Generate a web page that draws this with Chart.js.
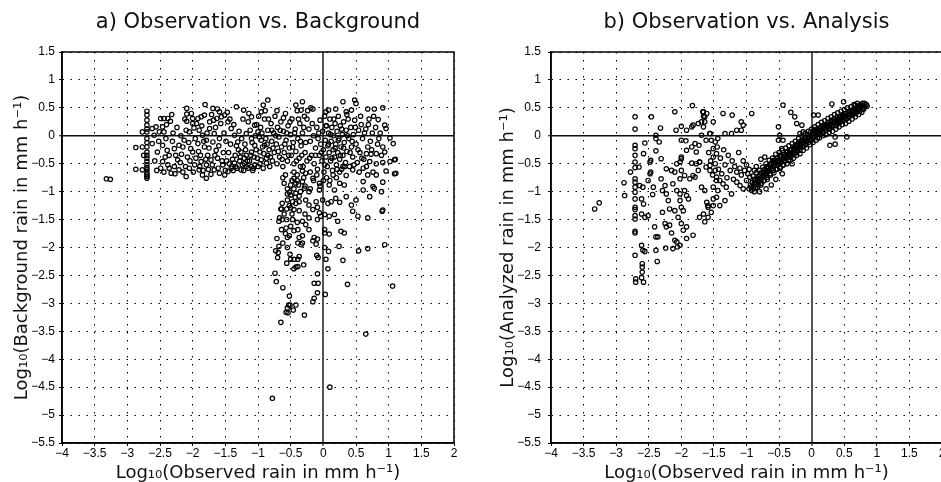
<!DOCTYPE html>
<html>
<head>
<meta charset="utf-8">
<script src="https://cdn.jsdelivr.net/npm/chart.js@4/dist/chart.umd.min.js"></script>
<style>
html,body{margin:0;padding:0;background:#fff;overflow:hidden;width:941px;height:482px}
#wrapA{position:absolute;left:0;top:0;width:470px;height:482px}
#wrapB{position:absolute;left:470px;top:0;width:480px;height:482px}
</style>
</head>
<body>
<div id="wrapA"><canvas id="chartA" width="470" height="482"></canvas></div>
<div id="wrapB"><canvas id="chartB" width="480" height="482"></canvas></div>
<script>
// ---- tick values / labels ----
const xTickValues = [-4,-3.5,-3,-2.5,-2,-1.5,-1,-0.5,0,0.5,1,1.5,2];
const yTickValues = [1.5,1,0.5,0,-0.5,-1,-1.5,-2,-2.5,-3,-3.5,-4,-4.5,-5,-5.5];
const panelTitles = ['a) Observation vs. Background','b) Observation vs. Analysis'];
const xAxisLabel = 'Log₁₀(Observed rain in mm h⁻¹)';
const yAxisLabels = ['Log₁₀(Background rain in mm h⁻¹)','Log₁₀(Analyzed rain in mm h⁻¹)'];

// ---- panel a: [log10 observed, log10 background] ----
const obsVsBackground = [
[-3.32,-0.77],[-3.26,-0.78],[-2.87,-0.60],[-2.87,-0.21],[-2.77,0.07],
[-2.70,0.44],[-2.70,0.37],[-2.70,0.28],[-2.70,0.19],[-2.70,0.12],[-2.70,0.07],[-2.70,-0.05],[-2.70,-0.12],[-2.70,-0.20],[-2.70,-0.29],[-2.70,-0.35],[-2.70,-0.40],[-2.70,-0.46],[-2.70,-0.52],[-2.70,-0.57],[-2.70,-0.61],[-2.70,-0.66],[-2.70,-0.70],[-2.70,-0.73],[-2.70,-0.76],
[-2.77,-0.20],[-2.75,-0.35],[-2.77,-0.61],
[-2.62,0.13],[-2.56,0.16],[-2.59,0.01],[-2.62,-0.14],[-2.54,-0.29],
[-2.49,0.31],[-2.44,0.31],[-2.38,0.31],[-2.46,0.16],[-2.44,0.07],[-2.41,-0.05],[-2.46,-0.17],[-2.39,-0.26],[-2.46,-0.46],[-2.49,-0.58],[-2.44,-0.65],[-2.38,-0.52],[-2.33,-0.67],
[-2.32,0.38],[-2.34,0.26],[-2.51,0.07],
[-2.28,-0.23],[-2.26,-0.35],[-2.23,-0.43],[-2.21,-0.17],[-2.15,-0.20],[-2.36,-0.35],[-2.21,-0.61],[-2.15,-0.65],[-2.28,-0.55],
[-2.09,0.49],[-2.09,0.39],[-2.09,0.26],[-2.10,0.10],[-2.05,0.07],[-2.13,-0.08],[-2.03,-0.23],[-2.08,-0.38],[-2.00,-0.29],[-1.97,-0.52],[-2.05,-0.58],[-2.10,-0.73],
[-2.00,0.31],[-2.00,0.22],[-1.98,0.14],
[-1.92,0.31],[-1.87,0.34],[-1.82,0.37],
[-1.90,0.10],[-1.85,0.01],[-1.79,-0.08],[-1.92,-0.14],[-1.82,-0.20],[-1.88,-0.35],[-1.87,-0.46],[-1.79,-0.52],[-1.90,-0.61],[-1.85,-0.70],[-1.79,-0.76],
[-1.81,0.56],[-1.69,0.49],[-1.62,0.48],[-1.59,0.43],
[-1.74,0.25],[-1.68,0.28],[-1.63,0.31],[-1.56,0.34],[-1.51,0.37],
[-1.74,0.13],[-1.67,0.04],[-1.59,-0.05],[-1.69,-0.11],[-1.64,-0.26],[-1.77,-0.35],[-1.72,-0.43],[-1.62,-0.40],[-1.54,-0.52],[-1.67,-0.61],[-1.59,-0.67],[-1.51,-0.70],[-1.72,-0.69],
[-1.33,0.52],[-1.22,0.46],
[-1.46,0.25],[-1.41,0.13],[-1.36,0.01],[-1.31,-0.11],[-1.26,-0.29],[-1.21,-0.40],[-1.18,-0.55],[-1.36,-0.49],[-1.41,-0.58],[-1.46,-0.64],[-1.26,-0.61],[-1.10,-0.55],[-1.05,-0.52],
[-1.15,0.25],[-1.10,0.34],[-1.05,0.19],[-1.00,0.07],[-0.95,-0.08],[-0.90,-0.17],[-0.97,-0.29],[-0.85,-0.35],[-0.95,-0.43],[-0.87,-0.49],
[-0.92,0.55],[-0.95,0.43],[-0.85,0.64],
[-1.18,0.04],[-1.10,-0.05],[-1.05,-0.17],[-1.10,-0.29],
[-1.48,-0.45],[-1.45,-0.30],[-1.42,-0.15],[-1.40,-0.55],[-1.38,-0.62],[-1.35,-0.35],[-1.32,-0.58],[-1.30,-0.25],[-1.28,-0.45],[-1.25,-0.05],[-1.24,-0.52],[-1.22,-0.62],[-1.20,-0.15],[-1.18,-0.35],[-1.15,-0.58],[-1.13,-0.45],[-1.12,0.10],[-1.08,-0.62],[-1.06,-0.38],[-1.03,-0.25],[-1.02,0.20],[-1.00,-0.55],
[-2.58,-0.45],[-2.55,-0.62],[-2.52,-0.10],[-2.42,-0.38],[-2.40,0.20],[-2.36,-0.58],[-2.31,-0.10],[-2.30,0.05],[-2.27,-0.68],[-2.24,0.15],[-2.19,-0.48],[-2.18,0.00],[-2.17,-0.33],[-2.12,0.30],[-2.11,-0.55],[-2.06,-0.12],[-2.04,-0.45],[-2.02,0.40],[-1.99,-0.65],[-1.96,-0.05],[-1.95,-0.40],[-1.94,0.22],[-1.91,-0.28],[-1.89,-0.55],[-1.86,0.18],[-1.84,-0.62],[-1.83,-0.10],[-1.80,-0.42],[-1.78,0.05],[-1.76,-0.60],[-1.75,-0.22],[-1.71,0.38],[-1.70,-0.52],[-1.66,-0.35],[-1.65,0.15],[-1.61,-0.58],[-1.60,-0.18],[-1.57,0.22],[-1.55,-0.45],[-1.53,-0.30],[-1.52,0.05],[-1.50,-0.62],[-1.49,-0.10],[-1.47,0.42],[-1.44,-0.50],[-1.43,0.30],[-1.39,-0.42],[-1.37,0.20],[-1.34,-0.55],[-1.33,-0.18],[-1.29,0.08],[-1.27,-0.38],[-1.23,0.30],[-1.21,-0.50],[-1.19,-0.25],[-1.16,-0.45],[-1.14,0.40],[-1.11,-0.35],[-1.09,-0.12],[-1.07,-0.58],[-1.04,0.00],[-1.01,-0.40],
[-0.98,-0.02],[-0.96,0.15],[-0.93,-0.20],[-0.92,-0.58],[-0.90,0.30],[-0.88,-0.05],[-0.87,-0.40],[-0.85,0.10],[-0.83,-0.25],[-0.82,-0.55],[-0.80,0.22],[-0.79,-0.10],[-0.78,-0.45],[-0.76,0.05],[-0.75,-0.30],[-0.74,0.35],[-0.72,-0.15],[-0.71,-0.50],[-0.70,0.15],[-0.68,-0.02],[-0.67,-0.38],[-0.65,0.25],[-0.64,-0.20],[-0.62,-0.55],[-0.61,0.08],[-0.60,-0.30],[-0.58,0.40],[-0.57,-0.08],[-0.55,-0.45],[-0.54,0.18],[-0.52,-0.22],[-0.50,0.02],[-0.49,-0.35],[-0.48,0.30],[-0.46,-0.12],[-0.45,-0.50],[-0.43,0.12],[-0.42,-0.28],[-0.40,0.45],[-0.39,-0.05],[-0.37,-0.40],[-0.36,0.22],[-0.34,-0.18],[-0.32,0.05],[-0.31,-0.55],[-0.29,0.35],[-0.28,-0.30],
[-0.99,0.35],[-0.97,-0.50],[-0.94,0.05],[-0.91,-0.32],[-0.89,0.45],[-0.86,-0.15],[-0.84,0.30],[-0.81,-0.38],[-0.79,0.10],[-0.77,-0.22],[-0.73,0.00],[-0.71,0.45],[-0.69,-0.28],[-0.66,0.10],[-0.63,-0.42],[-0.61,0.32],[-0.59,-0.15],[-0.56,0.05],[-0.53,-0.35],[-0.51,0.25],[-0.47,-0.20],[-0.44,0.05],[-0.41,-0.45],[-0.38,0.30],[-0.35,-0.10],[-0.33,-0.35],[-0.30,0.15],[-0.27,-0.12],[-0.24,0.45],[-0.21,-0.40],
[-0.32,0.61],[-0.42,0.55],[-0.19,0.50],[-0.16,0.48],[-0.34,0.46],[0.30,0.61],[0.48,0.64],[0.50,0.58],[0.68,0.48],[0.78,0.48],[0.91,0.50],[0.08,0.46],[0.04,0.43],[0.19,0.48],[0.35,0.43],[0.43,0.46],
[0.84,0.29],[0.94,0.19],[0.96,0.13],[1.02,-0.04],[1.07,-0.14],[0.91,-0.20],[0.94,-0.29],[0.89,-0.35],[0.81,-0.32],[0.73,-0.33],[0.66,-0.32],[0.71,-0.46],[0.81,-0.50],[0.91,-0.48],[1.02,-0.46],[1.09,-0.43],[1.09,-0.68],[0.96,-0.63],[0.91,-0.83],[0.81,-0.70],[0.76,-0.65],[0.68,-0.70],[0.61,-0.58],[0.55,-0.65],[0.45,-0.61],[0.35,-0.71],[0.61,-0.82],[0.76,-0.91],
[-0.45,-0.76],[-0.42,-0.85],[-0.32,-0.82],[-0.29,-0.94],[-0.22,-1.00],[-0.52,-1.01],[-0.32,-0.63],[-0.27,-0.67],[-0.16,-0.76],[-0.06,-0.85],[-0.06,-0.97],[0.09,-0.88],[0.17,-0.97],[0.25,-0.85],[0.32,-0.88],
[-0.25,0.30],[-0.22,0.12],[-0.20,-0.10],[-0.18,-0.35],[-0.17,0.22],[-0.15,0.00],[-0.14,-0.50],[-0.12,-0.22],[-0.10,0.15],[-0.09,-0.60],[-0.08,-0.05],[-0.06,-0.35],[-0.05,0.28],[-0.04,-0.15],[-0.02,-0.45],[-0.01,0.08],[0.00,-0.25],[0.01,-0.65],[0.02,0.35],[0.03,-0.08],[0.04,-0.38],[0.05,0.18],[0.06,-0.55],[0.07,-0.18],[0.08,0.05],[0.09,-0.30],[0.10,0.30],[0.11,-0.45],[0.12,-0.10],[0.13,0.15],[0.14,-0.62],[0.15,-0.25],[0.16,0.00],[0.17,-0.38],[0.18,0.22],[0.19,-0.15],[0.20,-0.52],[0.21,0.08],[0.22,-0.30],[0.23,0.35],[0.24,-0.05],[0.25,-0.42],[0.26,0.18],[0.27,-0.20],[0.28,-0.60],[0.29,0.02],[0.30,-0.35],[0.31,0.25],[0.32,-0.12],[0.34,-0.48],[0.35,0.10],[0.36,-0.28],[0.38,0.30],[0.39,-0.05],[0.40,-0.55],[0.42,0.15],[0.43,-0.20],[0.45,-0.38],[0.46,0.02],[0.48,0.28],[0.50,-0.15],[0.52,-0.48],[0.54,0.10],[0.56,-0.30],[0.58,0.20],[0.60,-0.05],[0.62,-0.42],[0.65,0.12],[0.68,-0.20],[0.70,0.30],[0.72,-0.10],[0.75,0.05],[0.80,0.15],[0.85,-0.05],
[-0.12,-0.35],[-0.07,0.05],[-0.03,-0.30],[0.02,-0.52],[0.04,0.18],[0.08,-0.15],[0.11,0.02],[0.13,-0.40],[0.16,0.30],[0.18,-0.22],[0.21,-0.60],[0.23,-0.08],[0.26,-0.35],[0.28,0.12],[0.31,-0.22],[0.33,-0.55],[0.36,0.38],[0.37,0.00],[0.41,-0.30],[0.44,-0.10],[0.47,-0.52],[0.49,0.15],[0.53,-0.25],[0.57,0.35],[0.59,-0.40],[0.63,0.05],[0.66,-0.55],[0.69,0.20],[0.74,-0.25],[0.77,0.35],[0.83,-0.15],[0.87,0.05],
[-0.45,-0.65],[-0.40,-0.70],[-0.35,-0.55],[-0.30,-0.75],[-0.25,-0.45],[-0.20,-0.65],[-0.15,-0.80],[-0.10,-0.70],[-0.05,-0.90],[0.00,-0.80],[0.05,-0.75],[0.10,-0.80],[0.15,-0.70],[0.20,-0.75],[0.25,-0.65],[0.30,-0.55],
[-0.60,-0.85],[-0.55,-0.95],[-0.50,-0.88],[-0.45,-0.95],[-0.38,-0.88],[-0.35,-1.00],[-0.28,-0.90],[-0.20,-0.95],[-0.62,-0.75],[-0.40,-0.80],
[-0.58,-0.70],[-0.48,-0.80],[-0.43,-1.10],[-0.52,-1.25],[-0.60,-1.40],[-0.48,-1.40],[-0.40,-1.55],[-0.58,-1.75],[-0.45,-1.70],[-0.62,-1.92],[-0.28,-1.40],
[-0.55,-1.04],[-0.50,-1.06],[-0.42,-1.03],[-0.37,-1.08],[-0.55,-1.15],[-0.47,-1.18],[-0.42,-1.21],[-0.63,-1.21],[-0.64,-1.31],[-0.56,-1.31],[-0.50,-1.29],[-0.45,-1.32],[-0.37,-1.34],[-0.37,-1.18],[-0.27,-1.15],[-0.22,-1.24],[-0.16,-1.32],[-0.09,-1.28],[-0.11,-1.18],[-0.01,-1.15],[0.07,-1.21],[0.12,-1.18],[0.19,-1.12],[0.25,-1.19],[0.35,-1.09],[0.43,-1.24],[0.50,-1.15],[-0.06,-1.38],[0.02,-1.41],[0.09,-1.44],[0.17,-1.41],[0.22,-1.53],[0.27,-1.71],[0.32,-1.74],[0.02,-1.68],[0.02,-1.74],[0.09,-1.76],[0.45,-1.35],[0.53,-1.44],[0.68,-1.47],[0.90,-1.35],[0.71,-1.09],[0.61,-0.97],[0.78,-0.94],[0.89,-1.00],[-0.32,-1.53],[-0.22,-1.47],[-0.27,-1.59],[-0.09,-1.50],[-0.04,-1.44],
[-0.65,-1.31],[-0.67,-1.47],[-0.68,-1.53],[-0.63,-1.50],[-0.56,-1.50],[-0.47,-1.50],[-0.50,-1.62],[-0.57,-1.65],[-0.64,-1.68],[-0.71,-1.84],[-0.55,-1.82],[-0.52,-1.79],[-0.39,-1.68],[-0.37,-1.82],[-0.32,-1.79],[-0.22,-1.68],[-0.14,-1.82],[-0.09,-1.85],[-0.16,-1.88],[-0.11,-1.94],[-0.39,-1.92],[-0.34,-1.95],[-0.32,-1.92],[-0.55,-2.00],[-0.68,-1.98],[-0.73,-2.06],[-0.69,-2.09],[-0.70,-2.18],[-0.51,-2.12],[-0.50,-2.21],[-0.45,-2.21],[-0.39,-2.21],[-0.37,-2.16],[-0.42,-2.35],[-0.45,-2.38],[-0.39,-2.34],[-0.30,-2.31],[-0.56,-2.28],[-0.10,-2.14],[-0.08,-2.18],[0.02,-2.00],[0.08,-2.07],[0.04,-2.21],[0.07,-2.38],[0.24,-1.98],[0.30,-2.23],[0.54,-2.06],[0.68,-2.02],[0.94,-1.95],[1.06,-2.69],[0.37,-2.66],[-0.09,-2.47],[-0.14,-2.64],[-0.08,-2.64],[0.03,-2.84],[-0.09,-2.81],[-0.14,-2.91],[-0.16,-2.97],[-0.74,-2.46],[-0.72,-2.61],[-0.62,-2.72],[-0.52,-2.87],[-0.53,-3.03],[-0.55,-3.08],[-0.51,-3.03],[-0.42,-3.03],[-0.46,-3.12],[-0.57,-3.16],[-0.29,-3.21],[-0.65,-3.34],[-0.54,-3.17],
[1.11,-0.67],[1.10,-0.42],[0.91,-1.33],
[0.65,-3.55],[0.10,-4.50],[-0.78,-4.70]
];

// ---- panel b: [log10 observed, log10 analysis] ----
const obsVsAnalysis = [
[-3.33,-1.31],[-3.26,-1.20],[-2.88,-0.84],[-2.87,-1.07],[-2.78,-0.65],
[-2.71,0.34],[-2.71,0.12],[-2.71,-0.17],[-2.71,-0.23],[-2.71,-0.35],[-2.71,-0.47],[-2.71,-0.57],[-2.71,-0.77],[-2.71,-0.83],[-2.71,-0.92],[-2.71,-1.01],[-2.71,-1.13],[-2.71,-1.28],[-2.71,-1.32],[-2.71,-1.43],[-2.71,-1.49],[-2.71,-1.71],[-2.71,-1.74],[-2.71,-2.14],
[-2.61,-1.96],[-2.59,-2.05],[-2.56,-2.07],[-2.60,-2.29],[-2.60,-2.35],[-2.60,-2.44],[-2.61,-2.54],[-2.70,-2.56],[-2.70,-2.62],[-2.58,-2.62],
[-2.65,-0.56],[-2.64,-0.89],[-2.59,-0.92],[-2.61,-1.13],[-2.58,-1.22],[-2.61,-1.40],[-2.56,-1.46],[-2.51,-1.43],
[-2.56,-0.13],[-2.58,-0.32],[-2.51,-0.80],[-2.48,-0.47],[-2.47,-0.44],[-2.47,-0.65],[-2.48,-0.68],
[-2.46,0.34],[-2.39,0.01],[-2.39,-0.05],[-2.34,-0.11],[-2.39,-0.27],[-2.32,0.14],
[-2.43,-0.92],[-2.44,-1.05],[-2.41,-1.63],[-2.39,-1.81],[-2.36,-1.81],[-2.39,-2.05],[-2.37,-2.25],
[-2.31,-0.41],[-2.31,-0.77],[-2.29,-0.98],[-2.25,-0.89],[-2.23,-1.04],[-2.20,-1.16],[-2.18,-1.31],[-2.29,-1.37],[-2.25,-1.57],[-2.23,-1.63],[-2.18,-1.60],[-2.24,-2.01],[-2.15,-1.74],[-2.13,-2.02],[-2.10,-1.87],[-2.07,-1.90],[-2.06,-1.99],
[-2.23,-0.59],[-2.15,-0.62],[-2.10,-0.65],[-2.07,-0.50],[-2.02,-0.47],[-2.00,-0.62],[-2.02,-0.77],[-1.95,-0.71],
[-2.10,0.43],[-2.08,0.10],[-2.00,0.17],[-1.92,0.10],[-1.84,0.16],[-1.82,0.19],
[-2.00,-0.08],[-1.93,-0.09],[-1.92,-0.26],[-2.00,-0.38],[-2.00,-0.41],
[-2.13,-0.86],[-2.07,-0.98],[-2.02,-1.04],[-1.95,-0.98],[-1.92,-1.07],[-2.02,-1.16],[-2.00,-1.28],[-2.10,-1.34],[-1.97,-1.34],[-1.89,-1.13],[-2.05,-1.46],[-2.00,-1.57],[-1.97,-1.69],[-1.92,-1.63],[-1.92,-1.84],[-2.02,-1.96],[-1.82,-1.78],
[-1.87,-0.77],[-1.82,-0.71],[-1.79,-0.74],[-1.77,-0.50],[-1.84,-0.49],[-1.72,-0.47],[-1.74,-0.62],
[-1.84,-0.20],[-1.77,-0.29],[-1.79,-0.14],[-1.73,-0.17],[-1.74,0.22],[-1.69,0.25],[-1.66,0.16],[-1.64,0.34],[-1.61,0.40],[-1.66,0.43],[-1.83,0.54],
[-1.69,-0.92],[-1.64,-0.98],[-1.61,-1.19],[-1.59,-1.28],[-1.66,-1.40],[-1.72,-1.46],[-1.64,-1.54],[-1.59,-1.46],
[-1.56,0.04],[-1.54,-0.08],[-1.48,-0.11],[-1.51,-0.23],[-1.46,-0.32],[-1.51,-0.38],
[-1.56,-0.53],[-1.48,-0.62],[-1.46,-0.80],[-1.51,-0.92],[-1.46,-1.10],[-1.51,-1.25],[-1.54,-1.37],
[-1.67,0.43],[-1.66,0.35],[-1.64,0.25],[-1.51,0.25],[-1.36,0.40],[-1.22,0.37],[-1.08,0.25],[-1.05,0.19],[-1.08,0.10],[-1.15,0.10],[-1.23,0.04],[-1.33,0.04],[-1.44,-0.05],[-1.56,0.04],[-1.62,-0.08],[-1.69,0.01],
[-0.92,0.40],
[-0.44,0.55],[-0.32,0.42],[-0.26,0.34],[-0.23,0.22],[-0.15,0.19],[-0.13,0.07],[-0.18,0.04],[0.03,0.37],[0.10,0.37],[0.31,0.57],[0.49,0.61],[0.67,0.55],[0.78,0.58],[0.85,0.53],
[-0.51,0.16],[-0.49,0.01],[-0.51,-0.08],[-0.46,-0.23],[-0.49,-0.35],[-0.44,-0.08],
[0.28,-0.17],[0.36,-0.15],[0.54,-0.02],[0.36,-0.02],
[-1.72,-0.47],[-1.62,-0.56],[-1.56,-0.62],[-1.46,-0.74],[-1.41,-0.80],[-1.36,-0.86],[-1.31,-0.92],[-1.23,-1.04],[-1.15,-0.83],[-1.10,-0.89],[-1.05,-0.95],[-1.00,-0.80],[-0.95,-0.74],[-1.44,-0.98],[-1.51,-1.13],[-1.33,-1.16],[-1.41,-1.25],[-1.59,-1.25],
[-1.58,-0.30],[-1.55,-0.45],[-1.52,-0.70],[-1.48,-0.50],[-1.45,-0.20],[-1.43,-0.60],[-1.40,-0.40],[-1.38,-0.68],[-1.35,-0.25],[-1.33,-0.52],[-1.30,-0.75],[-1.28,-0.35],[-1.25,-0.62],[-1.22,-0.45],[-1.20,-0.78],[-1.18,-0.55],[-1.15,-0.65],[-1.12,-0.30],[-1.10,-0.58],[-1.08,-0.70],[-1.05,-0.45],[-1.03,-0.62],[-1.00,-0.52],[-0.98,-0.68],[-0.96,-0.60],
[-0.78,-0.42],[-0.72,-0.38],[-0.85,-0.55],[-0.88,-0.62],
[-0.55,-0.78],[-0.45,-0.68],[-0.30,-0.50],[-0.70,-0.95],[-0.80,-1.00],[-0.62,-0.88],
[-0.96,-0.95],[-0.94,-0.88],[-0.92,-0.98],[-0.91,-0.83],[-0.89,-0.90],[-0.88,-0.80],[-0.86,-0.94],[-0.85,-0.84],[-0.84,-0.76],[-0.82,-0.88],[-0.81,-0.72],[-0.80,-0.80],[-0.78,-0.70],[-0.77,-0.85],[-0.76,-0.76],[-0.74,-0.66],[-0.73,-0.80],[-0.72,-0.60],[-0.71,-0.70],[-0.69,-0.55],[-0.68,-0.74],[-0.67,-0.64],[-0.66,-0.58],[-0.64,-0.68],[-0.63,-0.50],[-0.62,-0.60],[-0.60,-0.45],[-0.59,-0.62],[-0.58,-0.54],[-0.56,-0.47],[-0.55,-0.60],[-0.54,-0.40],[-0.52,-0.52],[-0.51,-0.44],[-0.49,-0.56],[-0.48,-0.38],[-0.47,-0.48],[-0.45,-0.42],[-0.44,-0.52],[-0.42,-0.34],[-0.41,-0.45],[-0.39,-0.38],[-0.38,-0.30],[-0.36,-0.44],[-0.35,-0.35],[-0.33,-0.26],[-0.32,-0.38],[-0.30,-0.30],[-0.29,-0.20],[-0.27,-0.34],[-0.26,-0.25],[-0.24,-0.16],[-0.23,-0.30],[-0.21,-0.22],[-0.20,-0.12],[-0.18,-0.26],[-0.17,-0.18],[-0.15,-0.08],[-0.14,-0.20],[-0.12,-0.12],[-0.11,-0.04],[-0.09,-0.16],[-0.08,-0.08],[-0.06,0.02],[-0.05,-0.12],[-0.03,-0.04],[-0.02,0.06],[0.00,-0.08],[0.01,0.02],[0.03,-0.02],[0.04,0.10],[0.06,0.00],[0.07,0.08],[0.09,-0.04],[0.10,0.06],[0.12,0.14],[0.13,0.02],[0.15,0.10],[0.16,0.18],[0.18,0.06],[0.19,0.14],[0.21,0.20],[0.22,0.10],[0.24,0.16],[0.25,0.24],[0.27,0.12],[0.28,0.20],[0.30,0.26],[0.31,0.16],[0.33,0.22],[0.34,0.30],[0.36,0.20],[0.37,0.27],[0.39,0.33],[0.40,0.22],[0.42,0.28],[0.43,0.35],[0.45,0.26],[0.46,0.32],[0.48,0.38],[0.49,0.28],[0.51,0.34],[0.52,0.40],[0.54,0.31],[0.55,0.37],[0.57,0.43],[0.58,0.34],[0.60,0.40],[0.62,0.46],[0.63,0.37],[0.65,0.43],[0.67,0.49],[0.68,0.40],[0.70,0.46],[0.72,0.52],[0.74,0.44],[0.76,0.50],[0.78,0.55],[0.80,0.48],[0.82,0.53],[0.84,0.56],
[-0.93,-0.92],[-0.87,-0.86],[-0.83,-0.82],[-0.79,-0.76],[-0.75,-0.72],[-0.70,-0.64],[-0.65,-0.62],[-0.61,-0.55],[-0.57,-0.50],[-0.53,-0.46],[-0.50,-0.48],[-0.46,-0.44],[-0.43,-0.40],[-0.40,-0.36],[-0.37,-0.34],[-0.34,-0.30],[-0.31,-0.24],[-0.28,-0.28],[-0.25,-0.20],[-0.22,-0.18],[-0.19,-0.20],[-0.16,-0.14],[-0.13,-0.08],[-0.10,-0.10],[-0.07,-0.04],[-0.04,-0.02],[-0.01,0.00],[0.02,0.04],[0.05,0.04],[0.08,0.02],[0.11,0.10],[0.14,0.08],[0.17,0.12],[0.20,0.16],[0.23,0.14],[0.26,0.18],[0.29,0.22],[0.32,0.19],[0.35,0.25],[0.38,0.24],[0.41,0.30],[0.44,0.30],[0.47,0.34],[0.50,0.36],[0.53,0.36],[0.56,0.40],[0.59,0.38],[0.61,0.42],[0.64,0.44],[0.66,0.46],[0.69,0.48],[0.71,0.50],[0.73,0.48],[0.77,0.52],
[-0.90,-0.72],[-0.85,-0.66],[-0.80,-0.62],[-0.75,-0.56],[-0.70,-0.50],[-0.65,-0.44],[-0.60,-0.40],[-0.55,-0.33],[-0.50,-0.30],[-0.45,-0.26],[-0.40,-0.22],[-0.35,-0.18],[-0.30,-0.14],[-0.25,-0.10],[-0.20,-0.05],[-0.15,0.00],[-0.10,0.04],[-0.05,0.08],[0.00,0.12],[0.05,0.16],[0.10,0.20],[0.15,0.24],[0.20,0.27],[0.25,0.31],[0.30,0.34],[0.35,0.38],[0.40,0.41],[0.45,0.44],[0.50,0.47],[0.55,0.50],[0.60,0.52],[0.65,0.56],[0.70,0.58],
[-0.88,-1.00],[-0.83,-0.92],[-0.78,-0.88],[-0.73,-0.80],[-0.68,-0.78],[-0.63,-0.70],[-0.58,-0.66],[-0.53,-0.60],[-0.48,-0.58],[-0.43,-0.52],[-0.38,-0.50],[-0.33,-0.44],[-0.28,-0.40],[-0.23,-0.35],[-0.18,-0.32],[-0.13,-0.26],[-0.08,-0.22],[-0.03,-0.16],[0.02,-0.12],[0.07,-0.08],[0.12,-0.04],[0.17,0.00],[0.22,0.02],[0.27,0.06],[0.32,0.08],[0.37,0.12],[0.42,0.16],[0.47,0.20],[0.52,0.22],[0.57,0.26],[0.62,0.30],[0.67,0.34],[0.72,0.38],[0.77,0.42],
[-0.87,-0.78],[-0.82,-0.80],[-0.77,-0.66],[-0.72,-0.68],[-0.67,-0.56],[-0.62,-0.52],[-0.57,-0.44],[-0.52,-0.40],[-0.47,-0.36],[-0.42,-0.44],[-0.37,-0.28],[-0.32,-0.32],[-0.27,-0.22],[-0.22,-0.26],[-0.17,-0.10],[-0.12,-0.18],[-0.07,-0.10],[-0.02,-0.08],[0.03,0.06],[0.08,0.12],[0.13,0.08],[0.18,0.18],[0.23,0.20],[0.28,0.14],[0.33,0.26],[0.38,0.18],[0.43,0.24],[0.48,0.30],[0.53,0.30],[0.58,0.44],[0.63,0.40],[0.68,0.44],[0.73,0.54],[0.78,0.48],[0.81,0.58]
];

const FONT_TITLE = "'DejaVu Sans', sans-serif";
const FONT_TICK = "'Liberation Sans', Arial, sans-serif";

function fmt(v){
  const r = Math.round(v*10)/10;
  return (r < 0 ? '\u2212' : '') + String(Math.abs(r));
}

const framePlugin = {
  id: 'frame',
  afterDatasetsDraw(chart){
    const {ctx, chartArea:{left,top,right,bottom}} = chart;
    ctx.save();
    ctx.strokeStyle = '#000';
    ctx.lineWidth = 1.5;
    ctx.strokeRect(left, top, right-left, bottom-top);
    ctx.restore();
  }
};

function makeChart(id, pts, title, yLabel, g){
  return new Chart(document.getElementById(id), {
    type: 'scatter',
    data: { datasets: [{
      data: pts.map(p => ({x: p[0], y: p[1]})),
      pointRadius: 2.2,
      pointHoverRadius: 2.2,
      pointBorderWidth: 1.2,
      borderColor: '#000',
      backgroundColor: 'rgba(255,255,255,0)'
    }]},
    options: {
      responsive: false,
      animation: false,
      events: [],
      layout: { padding: { left: 0, right: g.padRight, top: 0, bottom: 0 } },
      plugins: {
        legend: { display: false },
        tooltip: { enabled: false },
        title: {
          display: true, text: title, fullSize: false,
          color: '#111',
          font: { family: FONT_TITLE, size: 21, weight: 'normal', lineHeight: 1.2 },
          padding: { top: 10, bottom: 16.8 }
        }
      },
      scales: {
        x: {
          type: 'linear', min: -4, max: 2,
          afterBuildTicks: s => { s.ticks = xTickValues.map(v => ({value: v})); },
          afterFit: s => { s.height = 39; },
          ticks: { callback: v => fmt(v), color: '#000', padding: 0, autoSkip: false, maxRotation: 0,
                   font: { family: FONT_TICK, size: 12 } },
          grid: {
            color: c => (c.tick && c.tick.value === 0) ? '#555' : '#000',
            lineWidth: c => (c.tick && c.tick.value === 0) ? 2 : 1,
            drawTicks: true, tickLength: 3, tickColor: '#000', tickWidth: 1, tickBorderDash: []
          },
          border: { display: true, color: '#000', width: 1.5,
                    dash: c => (c.tick && c.tick.value === 0) ? [] : [1.5, 6.5] },
          title: { display: true, text: xAxisLabel, color: '#111',
                   font: { family: FONT_TITLE, size: 18, lineHeight: 1 },
                   padding: { top: 0, bottom: 0 } }
        },
        y: {
          type: 'linear', min: -5.5, max: 1.5,
          afterBuildTicks: s => { s.ticks = yTickValues.slice().reverse().map(v => ({value: v})); },
          afterFit: s => { s.width = g.yWidth; },
          ticks: { callback: v => fmt(v), color: '#000', padding: g.tickPad, autoSkip: false,
                   font: { family: FONT_TICK, size: 12 } },
          grid: {
            color: c => (c.tick && c.tick.value === 0) ? '#111' : '#000',
            lineWidth: c => (c.tick && c.tick.value === 0) ? 1.5 : 1,
            drawTicks: true, tickLength: 3, tickColor: '#000', tickWidth: 1, tickBorderDash: []
          },
          border: { display: true, color: '#000', width: 1.5,
                    dash: c => (c.tick && c.tick.value === 0) ? [] : [1.5, 6.5] },
          title: { display: true, text: yLabel, color: '#111',
                   font: { family: FONT_TITLE, size: 18, lineHeight: 1 },
                   padding: { top: g.yTitlePad, bottom: 0 } }
        }
      }
    },
    plugins: [framePlugin]
  });
}

makeChart('chartA', obsVsBackground, panelTitles[0], yAxisLabels[0], {yWidth: 62, padRight: 16, tickPad: 4, yTitlePad: 13});
makeChart('chartB', obsVsAnalysis, panelTitles[1], yAxisLabels[1], {yWidth: 81, padRight: 8, tickPad: 7, yTitlePad: 29});
</script>
</body>
</html>
